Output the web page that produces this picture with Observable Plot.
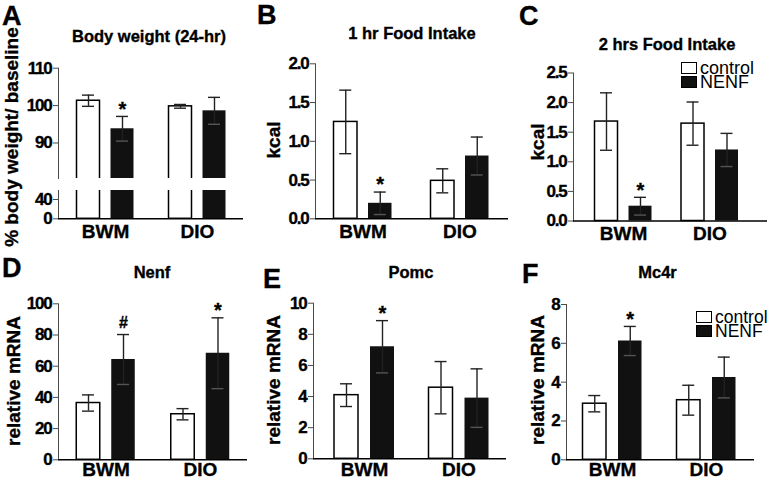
<!DOCTYPE html>
<html>
<head>
<meta charset="utf-8">
<script src="https://cdn.jsdelivr.net/npm/d3@7"></script>
<script src="https://cdn.jsdelivr.net/npm/@observablehq/plot@0.6"></script>
<style>
  body { margin: 0; background: #fff; }
  #fig { position: relative; width: 771px; height: 480px; overflow: hidden; background: #fff;
         font-family: "Liberation Sans", Arial, sans-serif; font-weight: bold; color: #000; }
  .panel { position: absolute; }
  .panel svg { overflow: visible; }
  .panel svg text { paint-order: stroke; stroke: #000; stroke-width: 0.35px; }
  .lbl { position: absolute; white-space: nowrap; -webkit-text-stroke: 0.35px #000; }
  .lbl.reg { -webkit-text-stroke: 0; }
  .box { position: absolute; box-sizing: border-box; border: 1.5px solid #000; }
  g[aria-label="y-axis tick label"] { letter-spacing: -1.2px; fill: #000; }
  g[aria-label="x-axis tick label"] { fill: #000; }
</style>
</head>
<body>
<div id="fig"></div>
<script>
// ---------------- data ----------------
const groups = ["BWM", "DIO"];
const treatments = ["control", "NENF"];
const letters = ["A", "B", "C", "D", "E", "F"];
const titles = ["Body weight (24-hr)", "1 hr Food Intake", "2 hrs Food Intake", "Nenf", "Pomc", "Mc4r"];
const yTitles = ["% body weight/ baseline", "kcal", "kcal", "relative mRNA", "relative mRNA", "relative mRNA"];

// A: body weight (% of baseline), broken axis
const aCtrl = [101.3, 99.8], aCtrlErr = [1.5, 0.5];
const aNenf = [93.8, 98.6], aNenfErr = [3.3, 3.6];
const aSig = ["*", ""];
const aTicksUpper = [90, 100, 110], aTicksLower = [0, 40];
const aUpperDomain = [80.5, 110], aLowerDomain = [0, 58.7];

// B: 1 hr food intake (kcal)
const bCtrl = [1.25, 0.49], bCtrlErr = [0.41, 0.155];
const bNenf = [0.20, 0.81], bNenfErr = [0.145, 0.245];
const bSig = ["*", ""];
const bTicks = [0, 0.5, 1, 1.5, 2];

// C: 2 hrs food intake (kcal)
const cCtrl = [1.68, 1.645], cCtrlErr = [0.485, 0.365];
const cNenf = [0.25, 1.20], cNenfErr = [0.15, 0.28];
const cSig = ["*", ""];
const cTicks = [0, 0.5, 1, 1.5, 2, 2.5];

// D: Nenf relative mRNA
const dCtrl = [36.4, 29.2], dCtrlErr = [5.2, 3.6];
const dNenf = [64.3, 68.3], dNenfErr = [16, 22.7];
const dSig = ["#", "*"];
const dTicks = [0, 20, 40, 60, 80, 100];

// E: Pomc relative mRNA
const eCtrl = [4.09, 4.57], eCtrlErr = [0.73, 1.68];
const eNenf = [7.20, 3.90], eNenfErr = [1.68, 1.88];
const eSig = ["*", ""];
const eTicks = [0, 2, 4, 6, 8, 10];

// F: Mc4r relative mRNA
const fCtrl = [2.89, 3.07], fCtrlErr = [0.42, 0.77];
const fNenf = [6.12, 4.24], fNenfErr = [0.75, 1.05];
const fSig = ["*", ""];
const fTicks = [0, 2, 4, 6, 8];

// ---------------- helpers ----------------
function rows(ctrl, ctrlErr, nenf, nenfErr, sig) {
  return groups.map((g, i) => ({
    group: g,
    ctrl: ctrl[i], ctrlLo: ctrl[i] - ctrlErr[i], ctrlHi: ctrl[i] + ctrlErr[i],
    nenf: nenf[i], nenfLo: nenf[i] - nenfErr[i], nenfHi: nenf[i] + nenfErr[i],
    sig: sig[i]
  }));
}

const fig = document.getElementById("fig");
const FONT = '"Liberation Sans", Arial, sans-serif';

function panel(L, data, opts) {
  const {left, top, width, height, ax, re, yTop, yBot, c1, c2, w, g} = L;
  const {domain, ticks, fmt, xAxis = true, baseline = true, clip = false, errors = true, labelPad = 5.5} = opts;
  const bw = 2 * w + g, step = c2 - c1, Lr = re - ax;
  const pi = 1 - bw / step;
  const po = (Lr / step - 2 + pi) / 2;
  const align = (c1 - bw / 2 - ax) / (Lr - step * (2 - pi));
  const off = (w + g) / 2, cap = 12;
  const marks = [
    Plot.barY(data, {x: "group", y: "ctrl", fill: "white", stroke: "black", strokeWidth: 1.5, insetRight: w + g, clip}),
    Plot.barY(data, {x: "group", y: "nenf", fill: "#111", insetLeft: w + g, clip})
  ];
  if (errors) {
    const ec = "#222", ew = 1.4;
    marks.push(
      Plot.ruleX(data, {x: "group", y1: "ctrlLo", y2: "ctrlHi", dx: -off, stroke: ec, strokeWidth: ew}),
      Plot.tickY(data, {x: "group", y: "ctrlHi", insetLeft: w / 2 - cap / 2, insetRight: bw - w / 2 - cap / 2, stroke: ec, strokeWidth: ew}),
      Plot.tickY(data, {x: "group", y: "ctrlLo", insetLeft: w / 2 - cap / 2, insetRight: bw - w / 2 - cap / 2, stroke: ec, strokeWidth: ew}),
      Plot.ruleX(data, {x: "group", y1: "nenfLo", y2: "nenfHi", dx: off, stroke: ec, strokeWidth: ew}),
      Plot.tickY(data, {x: "group", y: "nenfHi", insetLeft: w + g + w / 2 - cap / 2, insetRight: w / 2 - cap / 2, stroke: ec, strokeWidth: ew}),
      Plot.tickY(data, {x: "group", y: "nenfLo", insetLeft: w + g + w / 2 - cap / 2, insetRight: w / 2 - cap / 2, stroke: "#555", strokeWidth: ew}),
      Plot.text(data.filter(d => d.sig === "*"), {x: "group", y: "nenfHi", text: "sig", dx: off, dy: -7, fontSize: 20, fontWeight: "bold", fill: "black"}),
      Plot.text(data.filter(d => d.sig === "#"), {x: "group", y: "nenfHi", text: "sig", dx: off, dy: -12, fontSize: 16, fontWeight: "bold", fill: "black"})
    );
  }
  if (baseline) marks.push(Plot.ruleY([domain[0]], {stroke: "black", strokeWidth: 1.5}));
  if (xAxis) marks.push(Plot.axisX({tickSize: 0, tickPadding: labelPad, fontSize: 19, fontWeight: "bold", label: null, fill: "black"}));
  const svg = Plot.plot({
    width, height,
    marginLeft: ax - left, marginRight: left + width - re,
    marginTop: yTop - top, marginBottom: top + height - yBot,
    style: {fontFamily: FONT, fontSize: "17px", fontWeight: "bold", background: "transparent", color: "#4a4a4a"},
    x: {domain: groups, paddingInner: pi, paddingOuter: po, align, round: false, label: null, axis: xAxis ? undefined : null},
    y: {domain, ticks, tickFormat: fmt, tickSize: 5, tickPadding: 2, label: null, line: true},
    marks
  });
  const div = document.createElement("div");
  div.className = "panel";
  div.style.left = left + "px";
  div.style.top = top + "px";
  div.appendChild(svg);
  fig.appendChild(div);
}

// place a text by its baseline; lh = line-height in px
function text(str, x, baseline, size, anchor = "start", weight = "bold", lh = size) {
  const el = document.createElement("div");
  el.className = "lbl" + (weight === "bold" ? "" : " reg");
  el.textContent = str;
  el.style.fontSize = size + "px";
  el.style.lineHeight = lh + "px";
  el.style.fontWeight = weight;
  el.style.top = (baseline - lh / 2 - 0.3465 * size) + "px";
  el.style.left = x + "px";
  if (anchor === "middle") el.style.transform = "translateX(-50%)";
  fig.appendChild(el);
}
function vtext(str, cx, cy, size) {
  const el = document.createElement("div");
  el.className = "lbl";
  el.textContent = str;
  el.style.fontSize = size + "px";
  el.style.lineHeight = size + "px";
  el.style.left = cx + "px";
  el.style.top = cy + "px";
  el.style.transform = "translate(-50%,-50%) rotate(-90deg)";
  fig.appendChild(el);
}
function legend(x, y, size) {
  const fills = ["#fff", "#111"];
  treatments.forEach((t, i) => {
    const b = document.createElement("div");
    b.className = "box";
    b.style.left = x + "px"; b.style.top = (y + i * 14) + "px";
    b.style.width = "16px"; b.style.height = "12px";
    b.style.background = fills[i];
    fig.appendChild(b);
    text(t, x + 19, y + i * 14 + 12.5, size, "start", "normal", 13);
  });
}

// ---------------- layout ----------------
const LA_up = {left: 0, top: 50, width: 255, height: 135, ax: 58, re: 243, yTop: 67.7, yBot: 178, c1: 105, c2: 197, w: 23, g: 11};
const LA_lo = {left: 0, top: 185, width: 255, height: 55, ax: 58, re: 243, yTop: 190, yBot: 218.3, c1: 105, c2: 197, w: 23, g: 11};
const LB = {left: 255, top: 50, width: 255, height: 190, ax: 315, re: 508, yTop: 63.3, yBot: 218.3, c1: 362.5, c2: 459.5, w: 23.5, g: 11};
const LC = {left: 510, top: 50, width: 261, height: 190, ax: 573, re: 767, yTop: 72.5, yBot: 220.5, c1: 623, c2: 709.5, w: 23, g: 11};
const LD = {left: 0, top: 290, width: 255, height: 190, ax: 58, re: 247, yTop: 303.3, yBot: 459.3, c1: 105.5, c2: 200, w: 23.5, g: 11.5};
const LE = {left: 255, top: 290, width: 255, height: 190, ax: 313, re: 506, yTop: 302.7, yBot: 458.3, c1: 364, c2: 458.5, w: 24, g: 12};
const LF = {left: 510, top: 290, width: 261, height: 190, ax: 566, re: 754, yTop: 304, yBot: 459.3, c1: 612, c2: 706, w: 23.5, g: 12};

const aRows = rows(aCtrl, aCtrlErr, aNenf, aNenfErr, aSig);
panel(LA_up, aRows, {domain: aUpperDomain, ticks: aTicksUpper, fmt: d3.format("d"), xAxis: false, baseline: false, clip: true});
panel(LA_lo, aRows, {domain: aLowerDomain, ticks: aTicksLower, fmt: d3.format("d"), clip: true, errors: false});
panel(LB, rows(bCtrl, bCtrlErr, bNenf, bNenfErr, bSig), {domain: [0, 2], ticks: bTicks, fmt: d3.format(".1f")});
panel(LC, rows(cCtrl, cCtrlErr, cNenf, cNenfErr, cSig), {domain: [0, 2.5], ticks: cTicks, fmt: d3.format(".1f")});
panel(LD, rows(dCtrl, dCtrlErr, dNenf, dNenfErr, dSig), {domain: [0, 100], ticks: dTicks, fmt: d3.format("d"), labelPad: 3});
panel(LE, rows(eCtrl, eCtrlErr, eNenf, eNenfErr, eSig), {domain: [0, 10], ticks: eTicks, fmt: d3.format("d"), labelPad: 3.5});
panel(LF, rows(fCtrl, fCtrlErr, fNenf, fNenfErr, fSig), {domain: [0, 8], ticks: fTicks, fmt: d3.format("d"), labelPad: 3});

// panel letters
const letterPos = [[2, 25.5], [257, 25], [519, 26], [2, 278], [263, 289], [522, 284]];
letters.forEach((l, i) => text(l, letterPos[i][0], letterPos[i][1], 27));
// titles
const titlePos = [[149, 41.5], [412, 39.3], [667, 50], [152, 278.3], [411, 278.3], [657.5, 278.3]];
titles.forEach((t, i) => text(t, titlePos[i][0], titlePos[i][1], 16.5, "middle"));
// y-axis titles
const yTitlePos = [[11, 136.5], [273, 140], [536.5, 141.7], [13, 381], [272.5, 380], [536.5, 380]];
yTitles.forEach((t, i) => vtext(t, yTitlePos[i][0], yTitlePos[i][1], 19));
// legends
legend(681, 62, 18);
legend(696, 311, 17.5);
</script>
</body>
</html>
